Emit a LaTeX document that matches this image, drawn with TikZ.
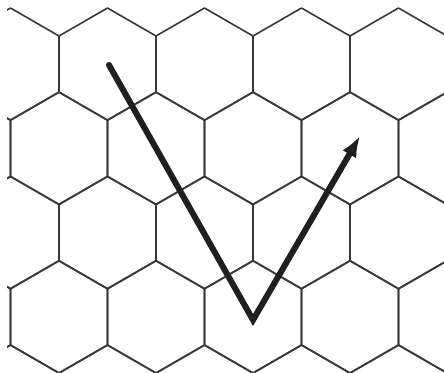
\documentclass[tikz,border=0pt]{standalone}
\usetikzlibrary{arrows.meta}
\begin{document}
\begin{tikzpicture}[x=1pt,y=-1pt,
  hexline/.style={draw=black!78, line width=1.6pt, line join=round},
  bigarrow/.style={draw=black!88, line width=6pt, line cap=round, line join=miter,
    -{Latex[length=21pt,width=16pt]}}]
\useasboundingbox (0,0) rectangle (444,372);
\fill[white] (0,0) rectangle (444,372);
\begin{scope}
\clip (7,7) rectangle (444,372);
\foreach \r in {0,...,4}{
  \foreach \c in {-1,...,5}{
    \pgfmathsetmacro\cx{10.5+97*\c+48.5*mod(\r,2)}
    \pgfmathsetmacro\cy{64+84.3*\r}
    \draw[hexline] (\cx,\cy) +(30:56) -- +(90:56) -- +(150:56) -- +(210:56) -- +(270:56) -- +(330:56) -- cycle;
  }
}
\end{scope}
\coordinate (start) at (109,65);
\coordinate (bottom) at (253,320);
\coordinate (tip) at (360,136);
\draw[bigarrow] (start) -- (bottom) -- (tip);
\end{tikzpicture}
\end{document}
